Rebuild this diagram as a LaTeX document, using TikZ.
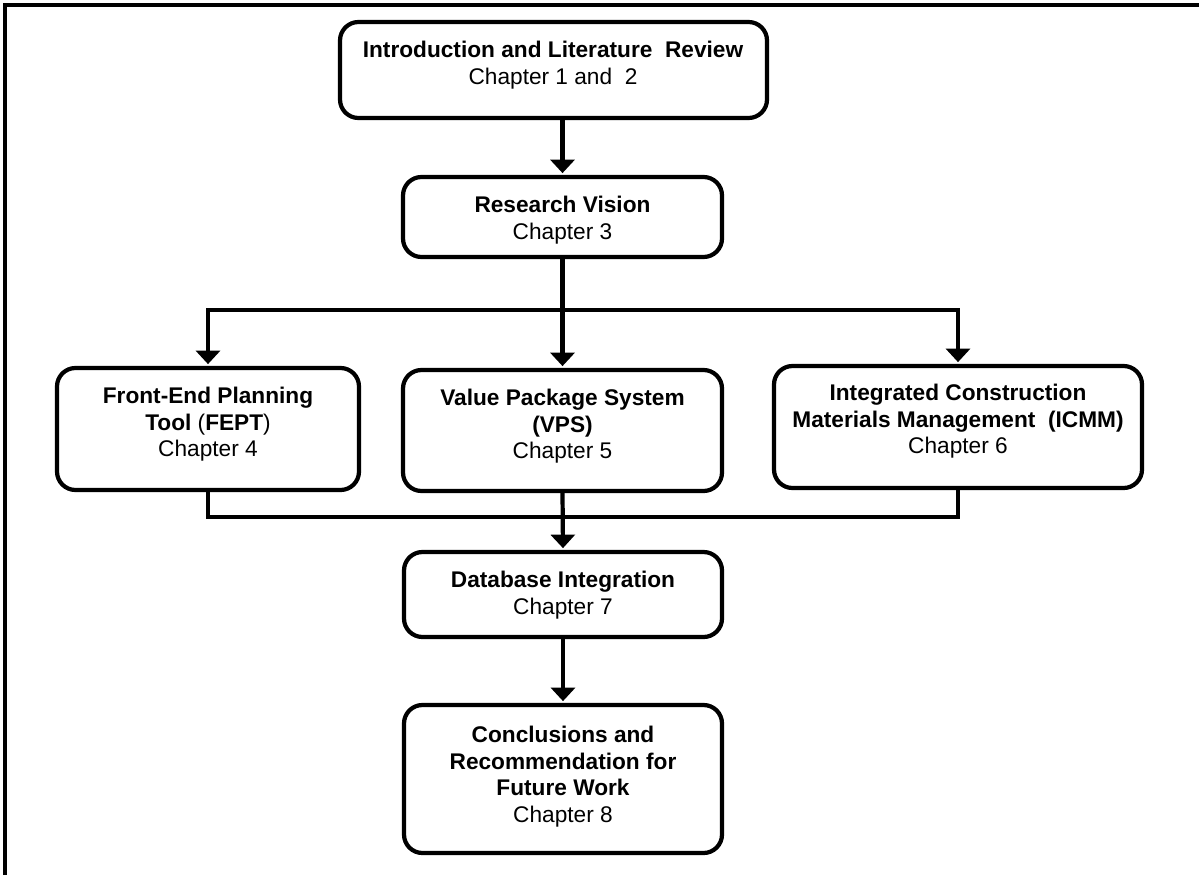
\documentclass[tikz,border=0pt]{standalone}
\usepackage{fontspec}
\setmainfont{Liberation Sans}
\usetikzlibrary{arrows.meta,fit}
\begin{document}
\begin{tikzpicture}[x=0.02cm,y=-0.02cm,
  box/.style={draw=black, line width=2.4pt, rounded corners=0.37cm, inner sep=0pt},
  txt/.style={align=center, inner sep=0pt, anchor=north, font=\fontsize{12.9}{15.1}\selectfont},
  link/.style={line width=2.4pt},
  arr/.style={link, -{Triangle[width=0.48cm,length=0.27cm]}, shorten >=1pt},
]
\useasboundingbox (0,0) rectangle (1199,875);
% page frame: top and left rules
\draw[line width=1.8pt] (5,875) -- (5,5) -- (1199,5);

% boxes
\node[box, fit={(340,22) (767,118)}] (intro) {};
\node[box, fit={(403,177) (722,257)}] (vision) {};
\node[box, fit={(57,368) (359,490)}] (fept) {};
\node[box, fit={(403,370) (722,491)}] (vps) {};
\node[box, fit={(774,366) (1142,488)}] (icmm) {};
\node[box, fit={(404,552) (722,637)}] (db) {};
\node[box, fit={(404,705) (722,853)}] (concl) {};

% box texts
\node[txt] (introtxt) at (553,41) {\textbf{Introduction and Literature\ \ Review}\\Chapter 1 and\ \ 2};
\node[txt] (visiontxt) at (562.5,196) {\textbf{Research Vision}\\Chapter 3};
\node[txt] (fepttxt) at (208,387) {\textbf{Front-End Planning}\\\textbf{Tool} (\textbf{FEPT})\\Chapter 4};
\node[txt] (vpstxt) at (562.5,389) {\textbf{Value Package System}\\\textbf{(VPS)}\\Chapter 5};
\node[txt] (icmmtxt) at (958,384) {\textbf{Integrated Construction}\\\textbf{Materials Management\ \ (ICMM)}\\Chapter 6};
\node[txt] (dbtxt) at (563,571) {\textbf{Database Integration}\\Chapter 7};
\node[txt] (concltxt) at (563,726) {\textbf{Conclusions and}\\\textbf{Recommendation for}\\\textbf{Future Work}\\Chapter 8};

% junction points
\coordinate (split) at (562.5,310);
\coordinate (merge) at (562.5,517);

% connectors
\draw[arr] (vision.north |- intro.south) -- (vision.north);
\draw[link] (vision.south) -- (split);
\draw[arr] (split) -| (fept.north);
\draw[arr] (split) -| (icmm.north);
\draw[arr] (split) -- (vps.north);
\draw[link] (fept.south) |- (merge) -| (icmm.south);
\draw[arr] (vps.south) -- (db.north);
\draw[arr] (db.south) -- (concl.north);
\end{tikzpicture}
\end{document}
